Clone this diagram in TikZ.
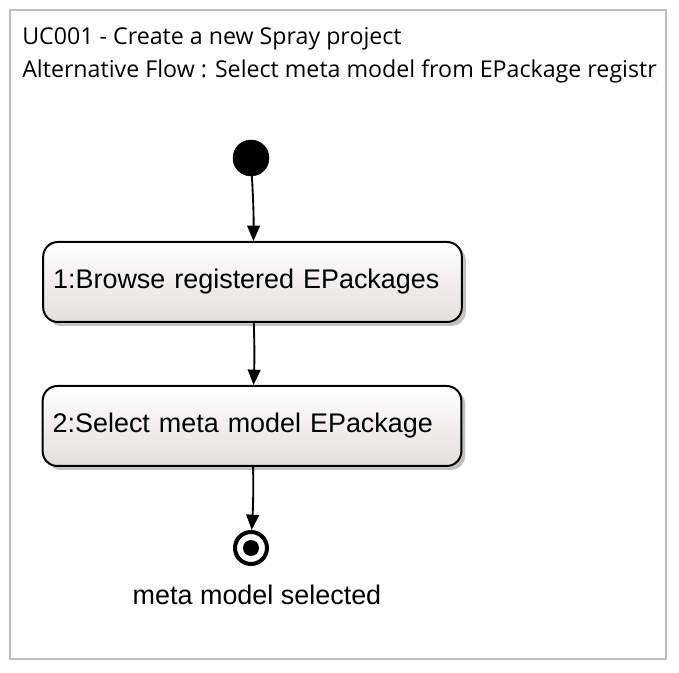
\documentclass[tikz,border=0pt]{standalone}
\usepackage{fontspec}
\setmainfont{Liberation Sans}
\newfontfamily\titlefont{Open Sans}
\usepackage{tikz}
\usetikzlibrary{shapes.misc, shadows, arrows.meta}
\definecolor{boxgray}{RGB}{226,223,220}

\begin{document}
\begin{tikzpicture}[x=0.75pt, y=-0.75pt,
	actbox/.style={draw, rounded corners=11pt, line width=1.5pt,
		top color=white, bottom color=boxgray,
		drop shadow={shadow xshift=3pt, shadow yshift=-3pt, fill=black!35, opacity=0.7},
		minimum height=60pt, text width=299pt, inner xsep=7.5pt, align=left,
		font=\fontsize{20.2pt}{24pt}\selectfont},
	flow/.style={-{Triangle[width=9.5pt, length=11.5pt]}, line width=1.4pt}]
	\useasboundingbox (0,0) rectangle (679,673);
	\draw[black!25, line width=1.1pt] (10,10) rectangle (666,659);
	\begin{scope}
	\clip (12,12) rectangle (656,110);
	\node[anchor=base west, inner sep=0, font=\titlefont\fontsize{17.4pt}{21pt}\selectfont] (title1) at (22,45) {UC001 - Create a new Spray project};
	\node[anchor=base west, inner sep=0, font=\titlefont\fontsize{17.4pt}{21pt}\selectfont] (title2) at (22,78) {Alternative Flow : Select meta model from EPackage registry};
	\end{scope}
	\node[draw, circle, fill=black, minimum size=27pt, inner sep=0] (start) at (251,158) {};
	\node[actbox] (browse) at (252.5,282) {1:Browse registered EPackages};
	\node[actbox] (select) at (252,426) {2:Select meta model EPackage};
	\node[draw, circle, line width=3pt, minimum size=24pt, inner sep=0,
		path picture={\fill (path picture bounding box.center) circle (6pt);}] (final) at (251,548) {};
	\node[font=\fontsize{20.2pt}{24pt}\selectfont, anchor=base] (finallabel) at (257,605) {meta model selected};
	\draw[flow] (start) to[bend left=2] (browse);
	\draw[flow] (browse) to[bend left=2] (select);
	\draw[flow] (select) to[bend left=2] (final);
\end{tikzpicture}
\end{document}
